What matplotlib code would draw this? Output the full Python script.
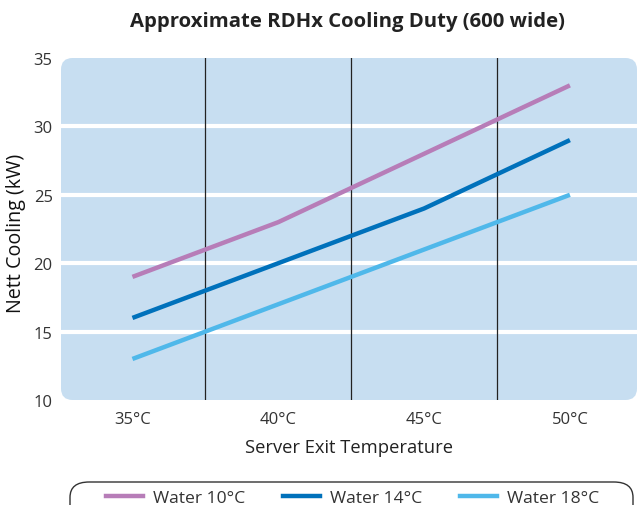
import matplotlib
matplotlib.use("Agg")
import matplotlib.pyplot as plt
from matplotlib.patches import FancyBboxPatch
from matplotlib.lines import Line2D

plt.rcParams['font.family'] = ['Open Sans', 'DejaVu Sans']

temps = ['35°C', '40°C', '45°C', '50°C']
water_10 = [19, 23, 28, 33]
water_14 = [16, 20, 24, 29]
water_18 = [13, 17, 21, 25]
series_names = ['Water 10°C', 'Water 14°C', 'Water 18°C']
colors = ['#B77DB8', '#0071BB', '#4FB8EA']

fig = plt.figure(figsize=(6.39, 5.06), dpi=100)
ax = fig.add_axes([61/639, 105/506, 576/639, 342/506])

# rounded light-blue plot background
bg = FancyBboxPatch((0, 0), 1, 1, boxstyle="round,pad=0,rounding_size=0.02",
                    transform=ax.transAxes, facecolor='#C7DEF1', edgecolor='none',
                    zorder=0, mutation_aspect=576/342)
ax.add_patch(bg)
ax.set_facecolor('none')
for s in ax.spines.values():
    s.set_visible(False)

x = range(len(temps))
for yy in [15, 20, 25, 30]:
    ax.axhline(yy, color='white', lw=3, zorder=1)
for xv in [0.5, 1.5, 2.5]:
    ax.axvline(xv, color='#222222', lw=0.9, zorder=2)

for vals, c in zip([water_10, water_14, water_18], colors):
    ax.plot(x, vals, color=c, lw=3.2, zorder=3, solid_capstyle='butt')

ax.set_xlim(-0.49, 3.46)
ax.set_ylim(10, 35)
ax.set_yticks([10, 15, 20, 25, 30, 35])
ax.set_xticks(list(x))
ax.set_xticklabels(temps)
ax.tick_params(length=0, labelsize=12, labelcolor='#333333')
ax.tick_params(axis='y', pad=6)
ax.tick_params(axis='x', pad=8)
ax.set_xlabel('Server Exit Temperature', fontsize=13.2, color='#222222', labelpad=8)
ax.set_ylabel('Nett Cooling (kW)', fontsize=14.2, color='#111111', labelpad=6)
ax.yaxis.set_label_coords(-0.06, 0.49)

fig.text(0.543, 0.957, 'Approximate RDHx Cooling Duty (600 wide)', ha='center', va='center',
         fontsize=14.6, fontweight='bold', color='#222222')

# legend box, cut off at the bottom
lbox = FancyBboxPatch((70/639, -0.05), 563/639, 23/506 + 0.05,
                      boxstyle="round,pad=0,rounding_size=0.03",
                      transform=fig.transFigure, facecolor='white',
                      edgecolor='#333333', lw=1.0, mutation_aspect=639/506*0.8)
fig.patches.append(lbox)
handles = [Line2D([], [], color=c, lw=3.2) for c in colors]
fig.legend(handles, series_names, loc='center', bbox_to_anchor=(0.552, 7/506),
           ncol=3, frameon=False, fontsize=12.6, handlelength=2.1,
           columnspacing=2.15, handletextpad=0.6, labelcolor='#333333')

fig.savefig('out.png', dpi=100)
